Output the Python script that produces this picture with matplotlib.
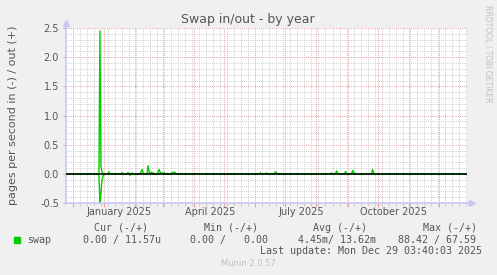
import matplotlib
matplotlib.use("Agg")
import matplotlib.pyplot as plt
import matplotlib.dates as mdates
import pandas as pd
from datetime import datetime, timedelta

# swap out (+), sparse daily values, zero elsewhere
out_dates = ['2024-12-28', '2024-12-29', '2024-12-30', '2025-01-06', '2025-01-19',
             '2025-01-25', '2025-01-29', '2025-02-07', '2025-02-08', '2025-02-09',
             '2025-02-14', '2025-02-15', '2025-02-17', '2025-02-19', '2025-02-24',
             '2025-02-25', '2025-02-26', '2025-02-28', '2025-03-02', '2025-03-05',
             '2025-03-10', '2025-03-12', '2025-03-13', '2025-06-06', '2025-06-12',
             '2025-06-21', '2025-06-22', '2025-08-16', '2025-08-21', '2025-08-22',
             '2025-08-30', '2025-09-06', '2025-09-07', '2025-09-08', '2025-09-26',
             '2025-09-27']
out_vals = [2.45, 0.12, 0.04, 0.035, 0.02,
            0.02, 0.015, 0.03, 0.075, 0.03,
            0.14, 0.04, 0.03, 0.02, 0.03,
            0.075, 0.03, 0.02, 0.02, 0.01,
            0.025, 0.03, 0.025, 0.017, 0.017,
            0.035, 0.02, 0.017, 0.05, 0.02,
            0.04, 0.06, 0.02, 0.015, 0.075,
            0.02]

# swap in (-)
in_dates = ['2024-12-27', '2024-12-28', '2024-12-29', '2024-12-30', '2024-12-31', '2025-01-27']
in_vals = [-0.03, -0.48, -0.32, -0.12, -0.05, -0.025]

month_labels = ['January 2025', 'April 2025', 'July 2025', 'October 2025']
label_dates = ['2025-01-16', '2025-04-17', '2025-07-17', '2025-10-17']

yticks = [-0.5, 0.0, 0.5, 1.0, 1.5, 2.0, 2.5]

legend_head = ['Cur (-/+)', 'Min (-/+)', 'Avg (-/+)', 'Max (-/+)']
legend_vals = ['0.00 / 11.57u', '0.00 /   0.00', '4.45m/ 13.62m', '88.42 / 67.59']

end = datetime(2025, 12, 29, 3, 40, 3)
start = end - timedelta(days=400)

days = pd.date_range(start.date(), end.date(), freq='D')
out_s = pd.Series(0.0, index=days)
out_s[pd.to_datetime(out_dates)] = out_vals
in_s = pd.Series(0.0, index=days)
in_s[pd.to_datetime(in_dates)] = in_vals

W, H = 497, 275
fig = plt.figure(figsize=(W / 100, H / 100), dpi=100, facecolor='#f0f0f0')
ax = fig.add_axes([66 / W, 1 - 203 / H, 401 / W, 175 / H])
ax.set_facecolor('white')

txt = '#555555'
green = '#00cc00'
axis_c = '#c8c8f4'

ax.plot(in_s.index, in_s.values, color=green, lw=1.0, zorder=3)
ax.plot(out_s.index, out_s.values, color=green, lw=1.0, zorder=3)
ax.axhline(0, color='black', lw=1.1, zorder=4)

ax.set_xlim(start, end)
ax.set_ylim(-0.5, 2.5)

ax.xaxis.set_major_locator(mdates.MonthLocator())
ax.xaxis.set_minor_locator(mdates.WeekdayLocator(byweekday=mdates.SU))
ax.xaxis.set_major_formatter(plt.NullFormatter())
ax.set_yticks(yticks)
ax.set_yticks([v / 10 for v in range(-5, 26)], minor=True)
ax.set_yticklabels(['%.1f' % v for v in yticks], fontsize=7, color=txt)

ax.grid(which='minor', color='#cccccc', lw=0.7, linestyle=(0, (1, 1.2)), zorder=1)
ax.grid(which='major', color='#e8a0a0', lw=0.7, linestyle=(0, (1, 1.2)), zorder=2)
ax.set_axisbelow(True)

ax.tick_params(axis='x', which='major', length=3, color='#e8a0a0', width=0.8)
ax.tick_params(axis='x', which='minor', length=2, color='#cccccc', width=0.8)
ax.tick_params(axis='y', which='major', length=2, color='#e8a0a0', width=0.8, pad=3)
ax.tick_params(axis='y', which='minor', length=0)

for s in ['top', 'right']:
    ax.spines[s].set_visible(False)
for s in ['left', 'bottom']:
    ax.spines[s].set_color(axis_c)
    ax.spines[s].set_linewidth(1.2)

# axis arrows
ax.plot([0, 0], [1, 1.025], color=axis_c, lw=1.2, transform=ax.transAxes, clip_on=False)
ax.plot([0], [1.03], marker='^', ms=4, color=axis_c, transform=ax.transAxes, clip_on=False)
ax.plot([1, 1.012], [0, 0], color=axis_c, lw=1.2, transform=ax.transAxes, clip_on=False)
ax.plot([1.013], [0], marker='>', ms=4, color=axis_c, transform=ax.transAxes, clip_on=False)

for lab, d in zip(month_labels, label_dates):
    ax.text(pd.Timestamp(d), -0.052, lab, transform=ax.get_xaxis_transform(),
            ha='center', va='center', fontsize=7, color=txt)

def px(x, y):
    return x / W, 1 - y / H

fig.text(*px(248, 20), 'Swap in/out - by year', ha='center', va='center', fontsize=9, color=txt)
fig.text(*px(13, 115), 'pages per second in (-) / out (+)', rotation=90,
         ha='center', va='center', fontsize=8, color=txt)
fig.text(*px(488, 54), 'RRDTOOL / TOBI OETIKER', rotation=270,
         ha='center', va='center', fontsize=5.5, color='#c0c0c0')

mono = 'DejaVu Sans Mono'
fig.patches.append(plt.Rectangle(px(14, 243), 6 / W, 6 / H, color=green,
                                 transform=fig.transFigure, figure=fig))
fig.text(*px(27, 240), 'swap', ha='left', va='center', fontsize=7.2, family=mono, color=txt)
head_x = [94, 204, 313, 423]
val_x = [83, 190, 298, 398]
for hx, h in zip(head_x, legend_head):
    fig.text(*px(hx, 228), h, ha='left', va='center', fontsize=7.2, family=mono, color=txt)
for vx, v in zip(val_x, legend_vals):
    fig.text(*px(vx, 240), v, ha='left', va='center', fontsize=7.2, family=mono, color=txt)
fig.text(*px(482, 251), 'Last update: Mon Dec 29 03:40:03 2025', ha='right', va='center',
         fontsize=7.2, family=mono, color=txt)
fig.text(*px(248, 264), 'Munin 2.0.57', ha='center', va='center', fontsize=6, color='#c0c0c0')

fig.savefig('out.png', dpi=100, facecolor=fig.get_facecolor())
